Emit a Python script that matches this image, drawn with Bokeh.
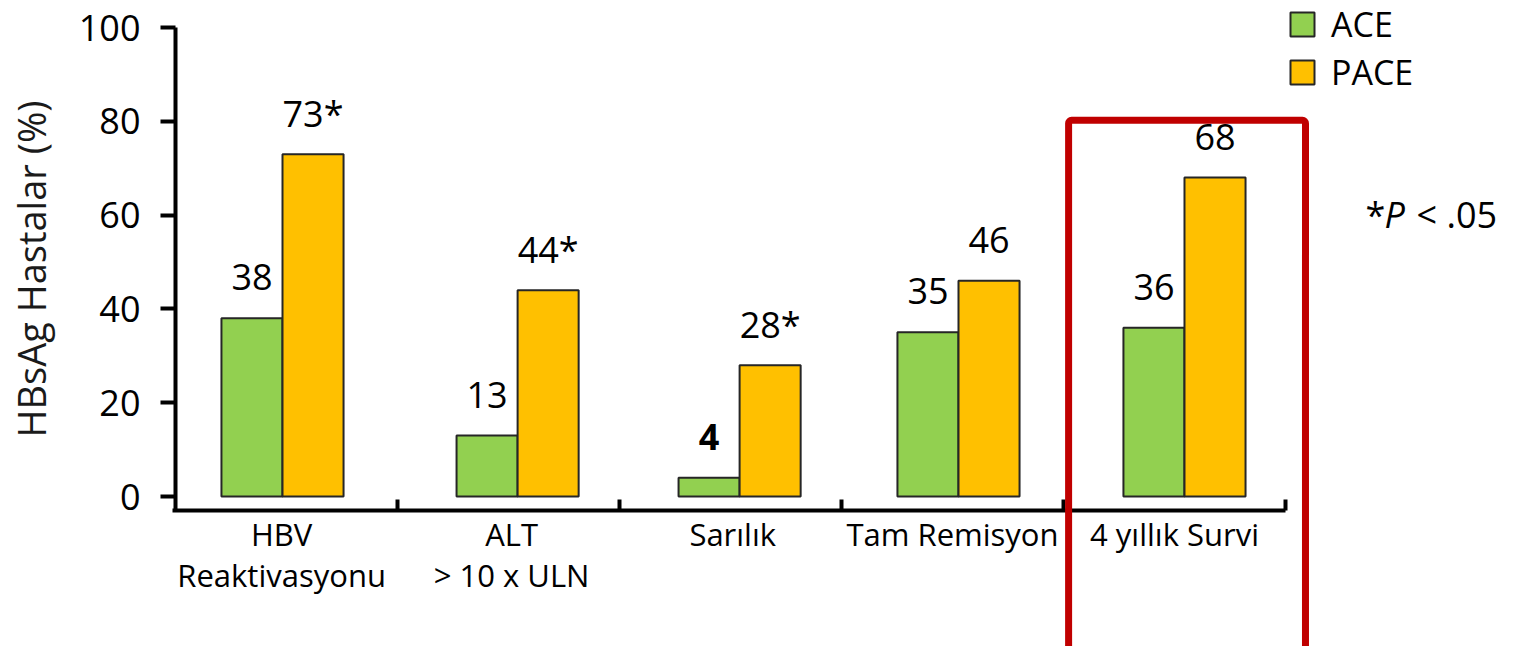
from bokeh.plotting import figure
from bokeh.models import (Range1d, LinearAxis, FixedTicker, CustomJSTickFormatter,
                          ColumnDataSource, BoxAnnotation, Legend, LegendItem, Label)
from bokeh.embed import file_html
from bokeh.resources import INLINE
from bokeh.core.properties import value

# ---------------- data ----------------
categories = ["HBV\nReaktivasyonu", "ALT\n> 10 x ULN", "Sarılık", "Tam Remisyon", "4 yıllık Survi"]
ace = [38, 13, 4, 35, 36]
pace = [73, 44, 28, 46, 68]
ace_labels = ["38", "13", "4", "35", "36"]
pace_labels = ["73*", "44*", "28*", "46", "68"]
ace_label_styles = ["normal", "normal", "bold", "normal", "normal"]
y_ticks = [0, 20, 40, 60, 80, 100]
series_names = ["ACE", "PACE"]

# ---------------- layout ----------------
group_x = [0.482, 1.541, 2.541, 3.527, 4.545]   # group centres (category units)
label_x = [0.478, 1.514, 2.51, 3.50, 4.50]      # category label centres
group_edges = [1, 2, 3, 4, 5]
bar_w = 0.275
FONT = "Open Sans"
GREEN, ORANGE, RED = "#92D050", "#FFC000", "#C00000"
EDGE = "#262626"

W, H = 1517, 646
X0, PXX = 175.0, 222.0     # pixel of x=0, pixels per category
Y0, PXY = 496.0, 4.69      # pixel of y=0, pixels per percent
x_axis_y = -14.0 / PXY     # x-axis line sits a bit below zero

p = figure(width=W, height=H, output_backend="svg", toolbar_location=None,
           x_range=Range1d(-X0 / PXX, (W - X0) / PXX),
           y_range=Range1d(-(H - Y0) / PXY, Y0 / PXY),
           x_axis_type=None, y_axis_type=None, min_border=0)
p.outline_line_color = None
p.background_fill_color = "white"
p.border_fill_color = "white"

src = ColumnDataSource(dict(
    xa=[g - bar_w / 2 for g in group_x],
    xp=[g + bar_w / 2 for g in group_x],
    ace=ace, pace=pace,
    ace_lab=ace_labels, pace_lab=pace_labels,
    ace_style=ace_label_styles,
))

r_ace = p.vbar(x="xa", top="ace", bottom=0, width=bar_w, source=src,
               fill_color=GREEN, line_color=EDGE, line_width=2)
r_pace = p.vbar(x="xp", top="pace", bottom=0, width=bar_w, source=src,
                fill_color=ORANGE, line_color=EDGE, line_width=2)

p.text(x="xa", y="ace", text="ace_lab", source=src, text_align="center",
       text_baseline="alphabetic", y_offset=-41, text_font=value(FONT),
       text_font_size="36px", text_font_style="ace_style", text_color="black")
p.text(x="xp", y="pace", text="pace_lab", source=src, text_align="center",
       text_baseline="alphabetic", y_offset=-41, text_font=value(FONT),
       text_font_size="36px", text_color="black")

# y axis
yax = LinearAxis(fixed_location=0, bounds=(x_axis_y, 100), ticker=FixedTicker(ticks=y_ticks),
                 axis_line_width=4, axis_line_color="black",
                 major_tick_line_width=4, major_tick_out=15, major_tick_in=0,
                 minor_tick_line_color=None,
                 major_label_text_font=FONT, major_label_text_font_size="36px",
                 major_label_text_color="black", major_label_standoff=20,
                 axis_label="HBsAg Hastalar (%)", axis_label_text_font=FONT,
                 axis_label_text_font_size="38px", axis_label_text_font_style="normal",
                 axis_label_text_color="#1a1a1a", axis_label_standoff=19)
p.add_layout(yax, "left")

# x axis line with inward ticks at group boundaries
xax = LinearAxis(fixed_location=x_axis_y, bounds=(-0.012, 5), ticker=FixedTicker(ticks=group_edges),
                 axis_line_width=4, axis_line_color="black",
                 major_tick_line_width=4, major_tick_in=11, major_tick_out=0,
                 minor_tick_line_color=None, major_label_text_color=None)
p.add_layout(xax, "below")

# category labels: one label axis per text line (controls line spacing)
split = [c.split("\n") for c in categories]
line1 = [s[0] for s in split]
line2 = [s[1] if len(s) > 1 else "" for s in split]
for names, shift_px in [(line1, 12.0), (line2, 12.0 - 41.0)]:
    fmt = CustomJSTickFormatter(args=dict(names=names, pos=label_x), code="""
        const i = pos.findIndex(v => Math.abs(v - tick) < 1e-6);
        return i >= 0 ? names[i] : "";
    """)
    cax = LinearAxis(fixed_location=x_axis_y + shift_px / PXY, ticker=FixedTicker(ticks=label_x),
                     formatter=fmt, axis_line_color=None, major_tick_line_color=None,
                     minor_tick_line_color=None, major_label_text_font=FONT,
                     major_label_text_font_size="31px", major_label_text_color="black",
                     major_label_standoff=8)
    p.add_layout(cax, "below")

# red highlight box around last group
box = BoxAnnotation(left=4.023, right=5.09, top=80.2, bottom=-40,
                    fill_alpha=0, fill_color=None, line_color=RED, line_alpha=1.0,
                    line_width=7, border_radius=3)
p.add_layout(box)

# legend
legend = Legend(items=[LegendItem(label=series_names[0], renderers=[r_ace]),
                       LegendItem(label=series_names[1], renderers=[r_pace])],
                location=(1287, H - 96), orientation="vertical",
                glyph_width=30, glyph_height=30, label_height=48,
                label_text_font=FONT, label_text_font_size="34px", label_text_color="black",
                label_standoff=14, spacing=0, padding=0, margin=0,
                border_line_color=None, background_fill_alpha=0)
p.add_layout(legend)

# significance note
for txt, xs, style in [("*", 1365, "normal"), ("P", 1384, "italic"), ("< .05", 1416, "normal")]:
    p.add_layout(Label(x=xs, y=H - 214, x_units="screen", y_units="screen", text=txt,
                       text_font=FONT, text_font_size="36px", text_font_style=style,
                       text_color="black", text_baseline="alphabetic", text_align="left"))

open("out.html", "w").write(file_html(p, INLINE))
